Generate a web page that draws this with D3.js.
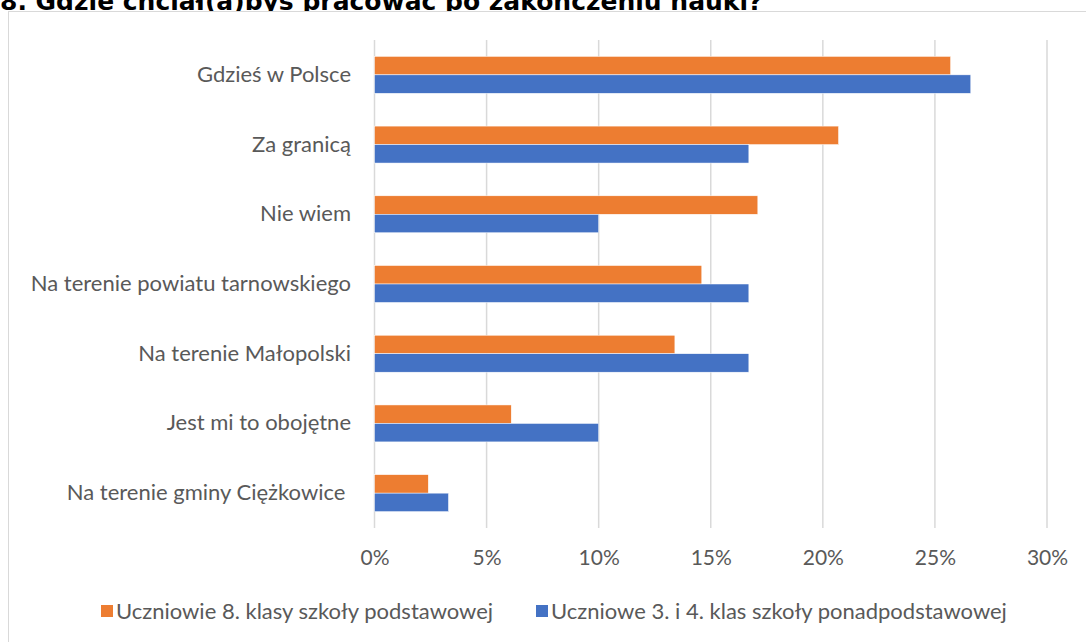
<!DOCTYPE html>
<html>
<head>
<meta charset="utf-8">
<script src="https://cdn.jsdelivr.net/npm/d3@7"></script>
<style>
  body { margin: 0; background: #fff; }
  svg { display: block; }
  text { font-family: Lato, "Open Sans", sans-serif; fill: #595959; }
</style>
</head>
<body>
<svg id="chart"></svg>
<script>
// data
const categories = [
    'Gdzieś w Polsce',
    'Za granicą',
    'Nie wiem',
    'Na terenie powiatu tarnowskiego',
    'Na terenie Małopolski',
    'Jest mi to obojętne',
    'Na terenie gminy Ciężkowice '
];
const seriesNames = [
    'Uczniowie 8. klasy szkoły podstawowej',
    'Uczniowe 3. i 4. klas szkoły ponadpodstawowej'
];
const primary = [25.7, 20.7, 17.1, 14.6, 13.4, 6.1, 2.4];
const secondary = [26.6, 16.7, 10.0, 16.7, 16.7, 10.0, 3.3];
const ticks = [0, 5, 10, 15, 20, 25, 30];
const colors = ['#ED7D31', '#4472C4'];
const title = '8. Gdzie chciał(a)byś pracować po zakończeniu nauki?';

const width = 1086, height = 642;
const svg = d3.select('#chart').attr('width', width).attr('height', height);

// title, partly cut at the top like the original
svg.append('text')
    .attr('x', 0).attr('y', 10)
    .style('font-family', '"DejaVu Sans", Verdana, sans-serif')
    .style('font-weight', 'bold')
    .style('font-size', '25px')
    .style('fill', '#000')
    .text(title);

// outer chart frame (runs off the right and bottom)
svg.append('rect')
    .attr('x', 8.5).attr('y', 11.5)
    .attr('width', 1090).attr('height', 640)
    .attr('fill', '#fff')
    .attr('stroke', '#d9d9d9');

const x = d3.scaleLinear().domain([0, 30]).range([374.5, 1047]);
const y = d3.scaleBand().domain(categories).range([40, 528]).paddingInner(0.47).paddingOuter(0.235);
const sub = d3.scaleBand().domain([0, 1]).range([0, y.bandwidth()]);

// gridlines
svg.append('g')
    .selectAll('line')
    .data(ticks)
    .join('line')
    .attr('x1', d => x(d)).attr('x2', d => x(d))
    .attr('y1', 40).attr('y2', 528)
    .attr('stroke', '#d9d9d9')
    .attr('stroke-width', 1.5);

// x axis labels
const xAxis = svg.append('g')
    .attr('transform', 'translate(0,528)')
    .call(d3.axisBottom(x).tickValues(ticks).tickFormat(d => d + '%').tickSize(0).tickPadding(22));
xAxis.select('.domain').remove();
xAxis.selectAll('text')
    .style('font-family', 'Lato, sans-serif')
    .style('font-size', '21px')
    .attr('fill', '#595959');

// category labels
const yAxis = svg.append('g')
    .attr('transform', 'translate(351,0)')
    .call(d3.axisLeft(y).tickSize(0).tickPadding(0));
yAxis.select('.domain').remove();
yAxis.selectAll('text')
    .style('font-family', 'Lato, sans-serif')
    .style('font-size', '22px')
    .style('white-space', 'pre')
    .attr('fill', '#595959');

// bars
const rows = categories.map((c, i) => ({ cat: c, vals: [primary[i], secondary[i]] }));
const groups = svg.append('g')
    .selectAll('g')
    .data(rows)
    .join('g')
    .attr('transform', d => `translate(0,${y(d.cat)})`);

groups.selectAll('rect')
    .data(d => d.vals.map((v, k) => ({ v, k })))
    .join('rect')
    .attr('x', x(0))
    .attr('y', d => sub(d.k))
    .attr('width', d => x(d.v) - x(0))
    .attr('height', sub.bandwidth())
    .attr('fill', d => colors[d.k])
    .attr('stroke', '#fff')
    .attr('stroke-width', 0.5);

// legend
const legend = svg.append('g').attr('transform', 'translate(0,611)');
const legendX = [101, 536];
seriesNames.forEach((name, k) => {
    legend.append('rect')
        .attr('x', legendX[k]).attr('y', -6)
        .attr('width', 12).attr('height', 12)
        .attr('fill', colors[k]);
    legend.append('text')
        .attr('x', legendX[k] + 15).attr('y', 0)
        .attr('dy', '0.35em')
        .style('font-size', '22px')
        .text(name);
});
</script>
</body>
</html>
